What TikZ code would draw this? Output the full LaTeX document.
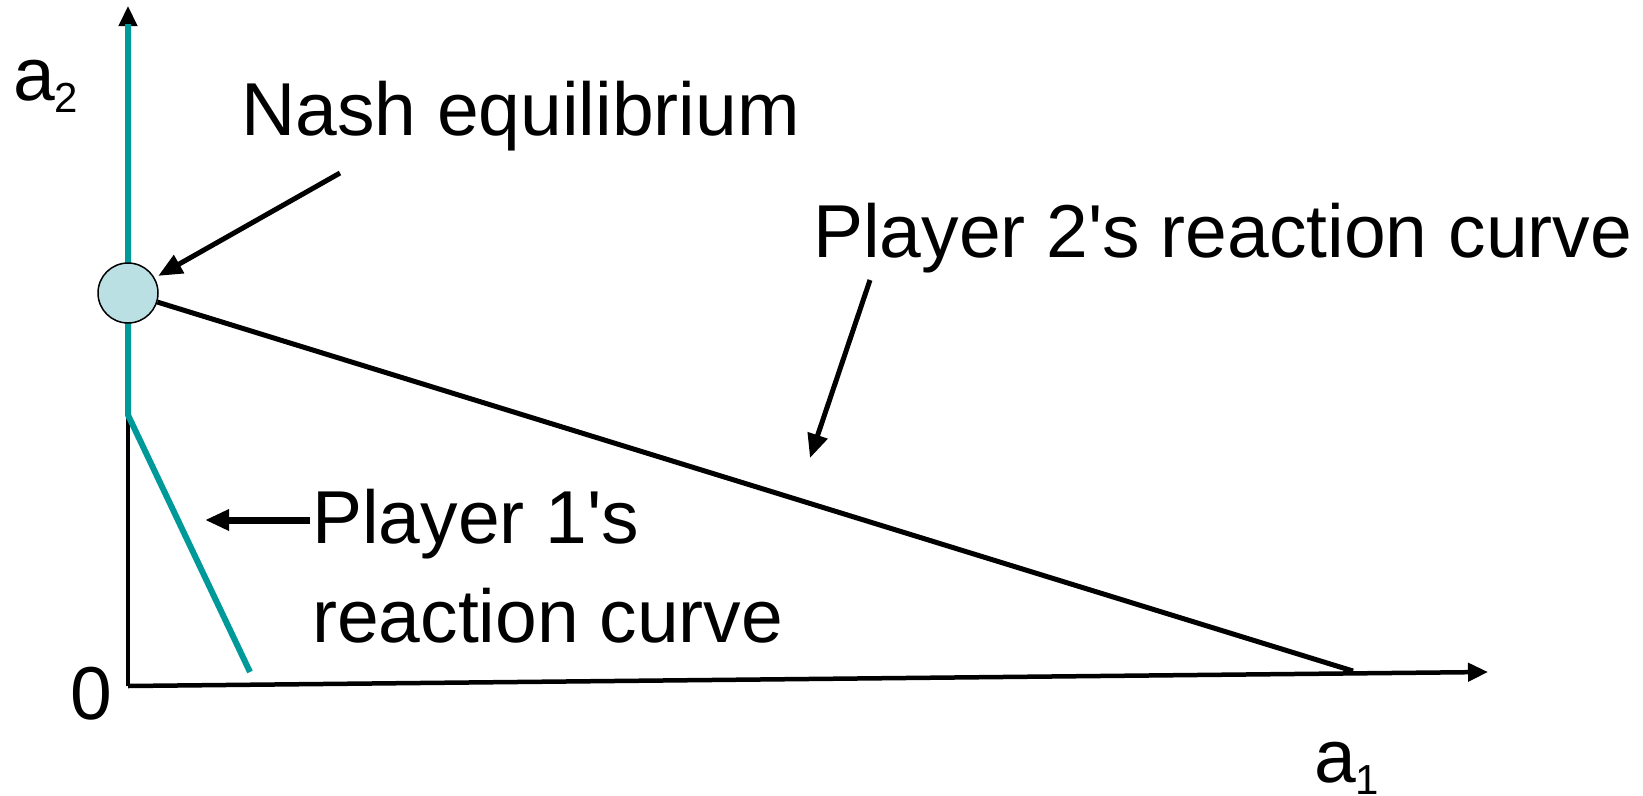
\documentclass[tikz,border=0pt]{standalone}
\usepackage{fontspec}
\setmainfont{Liberation Sans}
\usetikzlibrary{arrows.meta}
\definecolor{teal}{HTML}{009999}
\definecolor{nashfill}{HTML}{BBE0E3}
\begin{document}
\begin{tikzpicture}[x=1pt,y=-1pt,
  lbl/.style={inner sep=0pt,anchor=base west,font=\fontsize{75}{90}\selectfont},
  axis/.style={line width=4.5pt,-{Triangle[length=20pt,width=18pt]}},
  pointer/.style={line width=5pt,-{Triangle[length=24pt,width=20pt]}},
  tealline/.style={teal,line width=6pt},
  blackline/.style={line width=5pt}]
\useasboundingbox (0,0) rectangle (1643,795);
% coordinates
\coordinate (O) at (128,686);
\coordinate (X) at (1488,672);
\coordinate (Y) at (128,6);
\coordinate (Yt) at (128,24);
\coordinate (K) at (128,415);
\coordinate (P1e) at (250,672);
\coordinate (P2e) at (1353,671);
% axes
\draw[axis] (O) -- (X);
\draw[axis] (O) -- (Y);
% reaction curves
\draw[tealline] (Yt) -- (K) -- (P1e);
\node[circle,draw,line width=1.5pt,fill=nashfill,minimum size=60pt,inner sep=0pt] (N) at (128,293) {};
\draw[blackline] (N) -- (P2e);
% labels
\node[lbl] (a2) at (13,100) {a\raisebox{-12pt}{\fontsize{42}{42}\selectfont 2}};
\node[lbl] (a1) at (1314,782) {a\raisebox{-12pt}{\fontsize{42}{42}\selectfont 1}};
\node[lbl] (zero) at (70,719) {0};
\node[lbl] (nash) at (241,135) {Nash equilibrium};
\node[lbl] (p2) at (813,257) {Player 2\textquotesingle s reaction curve};
\node[lbl] (p1a) at (312,543) {Player 1\textquotesingle s};
\node[lbl] (p1b) at (312,642) {reaction curve};
% pointers
\coordinate (nt) at (340,173);
\draw[pointer,shorten >=4pt] (nt) -- (N);
\coordinate (p2t) at (870,280);
\coordinate (p2h) at (810,458);
\draw[pointer] (p2t) -- (p2h);
\coordinate (p1t) at (310,520);
\coordinate (p1h) at (205,520);
\draw[pointer,line width=7pt] (p1t) -- (p1h);
\end{tikzpicture}
\end{document}
